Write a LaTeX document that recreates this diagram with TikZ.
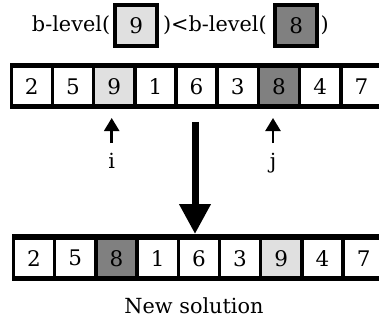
\documentclass[tikz,border=0pt]{standalone}
\usepackage{fontspec}
\setmainfont{DejaVu Serif}
\usetikzlibrary{arrows.meta}
\usetikzlibrary{positioning}
\definecolor{lightcell}{gray}{0.88}
\definecolor{darkcell}{gray}{0.5}
\tikzstyle{cell}=[fill=white,minimum width=37.7pt,minimum height=36pt,inner sep=0pt,font=\fontsize{21.5}{24}\selectfont]
\tikzstyle{keybox}=[draw,line width=4pt,minimum width=42pt,minimum height=41pt,inner sep=0pt,font=\fontsize{21.5}{24}\selectfont]
\tikzstyle{lbl}=[inner sep=0pt,font=\fontsize{20.8}{24}\selectfont]
\tikzstyle{smallarrow}=[line width=2.5pt,-{Triangle[width=15pt,length=13pt]}]
\tikzstyle{bigarrow}=[line width=7pt,-{Triangle[width=30pt,length=30pt]}]
\newcommand{\drawsolution}[4]{
% #1 left of first cell, #2 top of cells, #3 node prefix, #4 values/colours
\fill (#1-2.7,#2-5.7) rectangle (400,#2+41);
\foreach \v/\c [count=\k from 0] in {#4} {
  \node[cell,fill=\c,anchor=north west] (#3\k) at (#1+41.2*\k,#2) {\v};
}
}

\begin{document}
\begin{tikzpicture}[x=1pt,y=-1pt]
	\useasboundingbox (0,0) rectangle (379,323);
	\clip (0,0) rectangle (379,323);
	% b-level comparison
	\node[keybox,fill=lightcell] (k9) at (136.3,25.5) {9};
	\node[keybox,fill=darkcell] (k8) at (296.3,25.5) {8};
	\node[lbl,left=3pt of k9] (t1) {b-level(};
	\node[lbl,right=3.5pt of k9] (t2) {)<b-level(};
	\node[lbl,right=1pt of k8] (t3) {)};
	% old solution
	\drawsolution{12.7}{68.3}{a}{2/white,5/white,9/lightcell,1/white,6/white,3/white,8/darkcell,4/white,7/white}
	\node[lbl,anchor=north] (li) at (111.7,153) {i};
	\node[lbl,anchor=north] (lj) at (273,153) {j};
	\coordinate (ti) at (111.7,118);
	\coordinate (tj) at (273,118);
	\draw[smallarrow,shorten <=10pt] (li.north) -- (ti);
	\draw[smallarrow,shorten <=10pt] (lj.north) -- (tj);
	% swap
	\coordinate (bs) at (195,122);
	\coordinate (bt) at (195,234);
	\draw[bigarrow] (bs) -- (bt);
	% new solution
	\drawsolution{15}{240}{b}{2/white,5/white,8/darkcell,1/white,6/white,3/white,9/lightcell,4/white,7/white}
	\node[lbl] (ns) at (194,306) {New solution};
\end{tikzpicture}
\end{document}
